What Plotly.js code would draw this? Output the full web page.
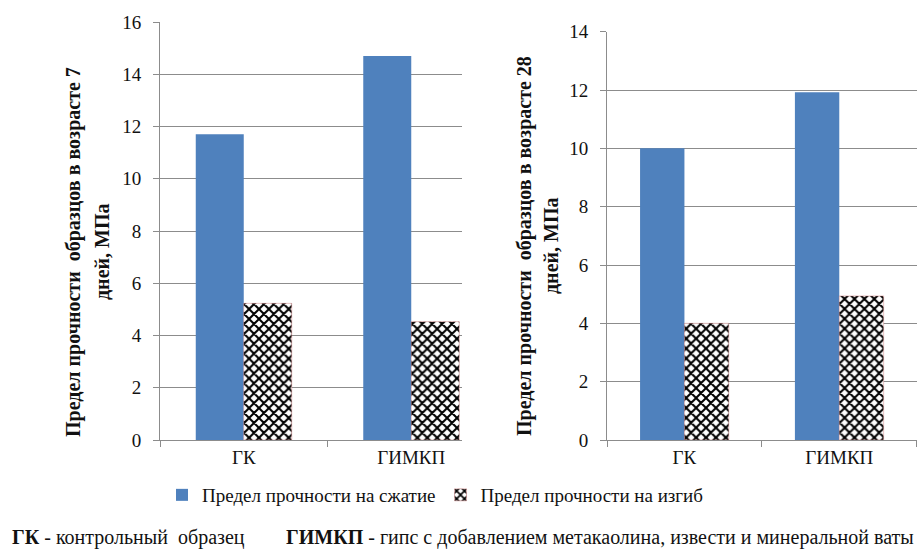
<!DOCTYPE html>
<html>
<head>
<meta charset="utf-8">
<script src="https://cdn.plot.ly/plotly-3.0.1.min.js"></script>
</head>
<body style="margin:0">
<div id="chart" style="width:917px;height:550px"></div>
<script>
// Categories (samples)
const categories = ['ГК', 'ГИМКП'];

// Strength at 7 days, MPa
const compress7 = [11.7, 14.7];
const bend7 = [5.23, 4.53];

// Strength at 28 days, MPa
const compress28 = [10.0, 11.92];
const bend28 = [4.0, 4.94];

// Series names
const seriesCompress = 'Предел прочности на сжатие';
const seriesBend = 'Предел прочности на изгиб';

// Axis titles
const yTitle7 = ['Предел прочности  образцов в возрасте 7', 'дней, МПа'];
const yTitle28 = ['Предел прочности  образцов в возрасте 28', 'дней, МПа'];

// Footnote
const noteGK = ['ГК', ' - контрольный  образец'];
const noteGIMKP = ['ГИМКП', ' - гипс с добавлением метакаолина, извести и минеральной ваты'];

const FONT = 'Times New Roman';
const BLUE = '#4f81bd';
const GRID = '#8c8c8c';
const W = 917, H = 550;

function compressTrace(y, xa, ya, show) {
  return {
    type: 'bar', x: categories, y: y, name: seriesCompress,
    xaxis: xa, yaxis: ya, showlegend: show, legendgroup: 'c',
    marker: { color: BLUE }
  };
}
function bendTrace(y, xa, ya, show) {
  return {
    type: 'bar', x: categories, y: y, name: seriesBend,
    xaxis: xa, yaxis: ya, showlegend: show, legendgroup: 'b',
    marker: {
      color: 'white',
      pattern: { shape: 'x', size: 7, solidity: 0.5, fgcolor: 'black', bgcolor: 'white' },
      line: { color: 'rgba(205,120,120,0.55)', width: 0.8 }
    }
  };
}

const data = [
  compressTrace(compress7, 'x', 'y', true),
  bendTrace(bend7, 'x', 'y', true),
  compressTrace(compress28, 'x2', 'y2', false),
  bendTrace(bend28, 'x2', 'y2', false)
];

function xAxis(domain, range, anchor) {
  return {
    domain: domain, range: range, anchor: anchor,
    type: 'category',
    showline: true, linecolor: GRID, linewidth: 1,
    ticks: 'outside', tickson: 'boundaries', ticklen: 6, tickcolor: GRID,
    showgrid: false, zeroline: false,
    tickfont: { family: FONT, size: 19 }
  };
}
function yAxis(domain, range, anchor) {
  return {
    domain: domain, range: range, anchor: anchor, dtick: 2,
    showline: true, linecolor: GRID, linewidth: 1,
    ticks: 'outside', ticklen: 6, tickcolor: GRID, ticklabelstandoff: 8,
    showgrid: true, gridcolor: GRID, gridwidth: 1, zeroline: false,
    tickfont: { family: FONT, size: 19 }
  };
}

function px(x) { return x / W; }
function py(y) { return 1 - y / H; }

function vTitle(text, x, y) {
  return {
    text: '<b>' + text + '</b>', xref: 'paper', yref: 'paper',
    x: px(x), y: py(y), xanchor: 'center', yanchor: 'middle',
    textangle: -90, showarrow: false,
    font: { family: FONT, size: 20 }
  };
}

function note(parts, x, y) {
  return {
    text: '<b>' + parts[0] + '</b>' + parts[1], xref: 'paper', yref: 'paper',
    x: px(x), y: py(y), xanchor: 'left', yanchor: 'middle',
    showarrow: false, font: { family: FONT, size: 20 }
  };
}

const layout = {
  width: W, height: H,
  margin: { l: 0, r: 0, t: 0, b: 0 },
  font: { family: FONT, color: '#111' },
  barmode: 'group', bargap: 0.427, bargroupgap: 0,
  xaxis: xAxis([px(160), px(462)], [-0.5, 1.303], 'y'),
  yaxis: yAxis([py(440), py(22)], [0, 16], 'x'),
  xaxis2: xAxis([px(607), px(916.7)], [-0.5, 1.5], 'y2'),
  yaxis2: yAxis([py(440), py(31.7)], [0, 14], 'x2'),
  showlegend: true,
  legend: {
    orientation: 'h', x: px(162), y: py(495), xanchor: 'left', yanchor: 'middle',
    font: { family: FONT, size: 19 },
    itemwidth: 30, bgcolor: 'rgba(0,0,0,0)'
  },
  annotations: [
    vTitle(yTitle7[0], 73, 252),
    vTitle(yTitle7[1], 102, 252),
    vTitle(yTitle28[0], 524, 246),
    vTitle(yTitle28[1], 551, 246),
    note(noteGK, 10, 537),
    note(noteGIMKP, 284, 537)
  ]
};

Plotly.newPlot('chart', data, layout, { displayModeBar: false });
</script>
</body>
</html>
